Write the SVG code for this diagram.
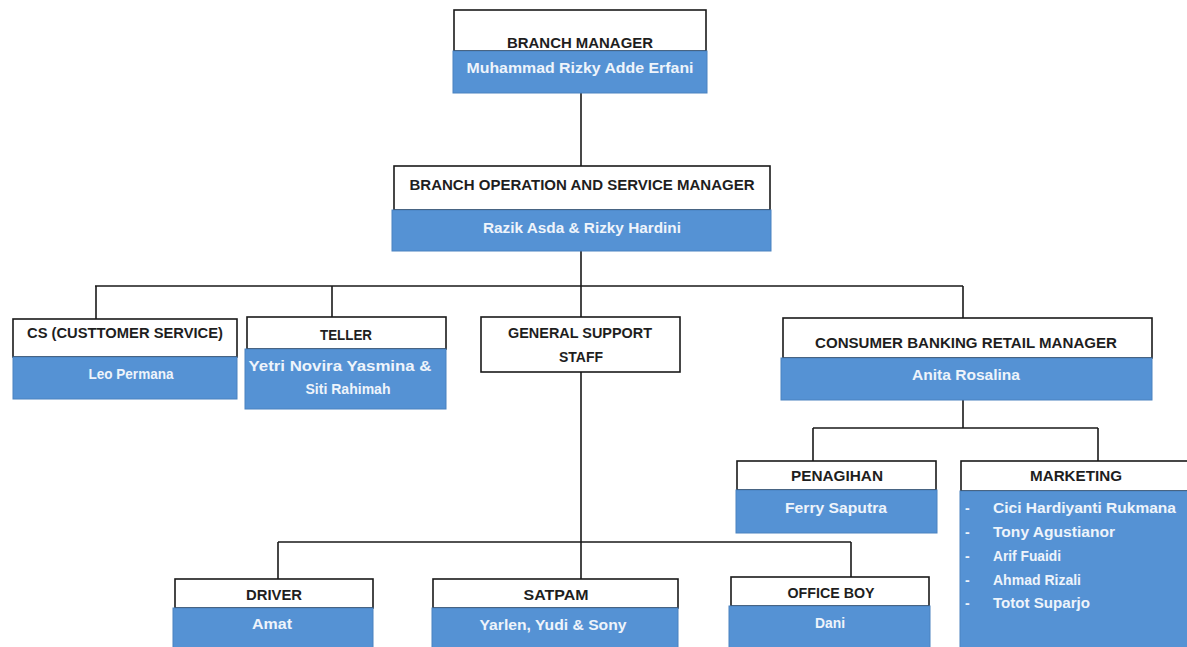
<svg xmlns="http://www.w3.org/2000/svg" width="1187" height="647" viewBox="0 0 1187 647">
<style>
.w{fill:#ffffff;stroke:#1a1a1a;stroke-width:1.6}
.b{fill:#5592d4;stroke:#4a82c0;stroke-width:1}
.t{font-family:"Liberation Sans",Arial,sans-serif;font-weight:bold;font-size:14px;fill:#1e1e1e;text-anchor:middle}
.n{font-family:"Liberation Sans",Arial,sans-serif;font-weight:bold;font-size:14px;fill:#eef4fb;text-anchor:middle}
.l{font-family:"Liberation Sans",Arial,sans-serif;font-weight:bold;font-size:14px;fill:#eef4fb}
.c{fill:none;stroke:#1a1a1a;stroke-width:1.6}
</style>
<rect width="1187" height="647" fill="#ffffff"/>
<g id="connectors">
<path class="c" d="M581 93V166"/>
<path class="c" d="M581 251V286M95 286H963M96 286V319M332 286V317M581 286V317M963 286V318"/>
<path class="c" d="M581 372V542M278 542H851M278 542V579M581 542V579M851 542V577"/>
<path class="c" d="M963 400V428M813 428H1098M813 428V461M1098 428V461"/>
</g>
<g id="branch-manager">
<rect class="w" x="454" y="10" width="252" height="41"/>
<rect class="b" x="453" y="51" width="254" height="42"/>
<text class="t" x="580" y="48" textLength="146" lengthAdjust="spacingAndGlyphs">BRANCH MANAGER</text>
<text class="n" x="580" y="73" textLength="227" lengthAdjust="spacingAndGlyphs">Muhammad Rizky Adde Erfani</text>
</g>
<g id="bosm">
<rect class="w" x="394" y="166" width="376" height="44"/>
<rect class="b" x="392" y="210" width="379" height="41"/>
<text class="t" x="582" y="190" textLength="345" lengthAdjust="spacingAndGlyphs">BRANCH OPERATION AND SERVICE MANAGER</text>
<text class="n" x="582" y="233" textLength="198" lengthAdjust="spacingAndGlyphs">Razik Asda &amp; Rizky Hardini</text>
</g>
<g id="cs">
<rect class="w" x="13" y="319" width="224" height="38"/>
<rect class="b" x="13" y="357" width="224" height="42"/>
<text class="t" x="125" y="338" textLength="196" lengthAdjust="spacingAndGlyphs">CS (CUSTTOMER SERVICE)</text>
<text class="n" x="131" y="379" textLength="85" lengthAdjust="spacingAndGlyphs">Leo Permana</text>
</g>
<g id="teller">
<rect class="w" x="247" y="317" width="199" height="32"/>
<rect class="b" x="245" y="349" width="201" height="60"/>
<text class="t" x="346" y="340" textLength="52" lengthAdjust="spacingAndGlyphs">TELLER</text>
<text class="n" x="340" y="371" textLength="183" lengthAdjust="spacingAndGlyphs">Yetri Novira Yasmina &amp;</text>
<text class="n" x="348" y="394" textLength="85" lengthAdjust="spacingAndGlyphs">Siti Rahimah</text>
</g>
<g id="general-support">
<rect class="w" x="481" y="317" width="199" height="55"/>
<text class="t" x="580" y="338" textLength="144" lengthAdjust="spacingAndGlyphs">GENERAL SUPPORT</text>
<text class="t" x="581" y="362" textLength="44" lengthAdjust="spacingAndGlyphs">STAFF</text>
</g>
<g id="cbrm">
<rect class="w" x="783" y="318" width="369" height="40"/>
<rect class="b" x="781" y="358" width="371" height="42"/>
<text class="t" x="966" y="348" textLength="302" lengthAdjust="spacingAndGlyphs">CONSUMER BANKING RETAIL MANAGER</text>
<text class="n" x="966" y="380" textLength="108" lengthAdjust="spacingAndGlyphs">Anita Rosalina</text>
</g>
<g id="penagihan">
<rect class="w" x="737" y="461" width="199" height="29"/>
<rect class="b" x="736" y="490" width="201" height="43"/>
<text class="t" x="837" y="481" textLength="92" lengthAdjust="spacingAndGlyphs">PENAGIHAN</text>
<text class="n" x="836" y="513" textLength="102" lengthAdjust="spacingAndGlyphs">Ferry Saputra</text>
</g>
<g id="marketing">
<rect class="w" x="961" y="461" width="230" height="30"/>
<rect class="b" x="960" y="491" width="231" height="160"/>
<text class="t" x="1076" y="481" textLength="92" lengthAdjust="spacingAndGlyphs">MARKETING</text>
<text class="l" x="965" y="513">-</text>
<text class="l" x="965" y="537">-</text>
<text class="l" x="965" y="561">-</text>
<text class="l" x="965" y="585">-</text>
<text class="l" x="965" y="608">-</text>
<text class="l" x="993" y="513" textLength="183" lengthAdjust="spacingAndGlyphs">Cici Hardiyanti Rukmana</text>
<text class="l" x="993" y="537" textLength="122" lengthAdjust="spacingAndGlyphs">Tony Agustianor</text>
<text class="l" x="993" y="561" textLength="68" lengthAdjust="spacingAndGlyphs">Arif Fuaidi</text>
<text class="l" x="993" y="585" textLength="88" lengthAdjust="spacingAndGlyphs">Ahmad Rizali</text>
<text class="l" x="993" y="608" textLength="97" lengthAdjust="spacingAndGlyphs">Totot Suparjo</text>
</g>
<g id="driver">
<rect class="w" x="175" y="579" width="198" height="29"/>
<rect class="b" x="173" y="608" width="200" height="43"/>
<text class="t" x="274" y="600" textLength="56" lengthAdjust="spacingAndGlyphs">DRIVER</text>
<text class="n" x="272" y="629" textLength="40" lengthAdjust="spacingAndGlyphs">Amat</text>
</g>
<g id="satpam">
<rect class="w" x="433" y="579" width="245" height="29"/>
<rect class="b" x="432" y="608" width="246" height="43"/>
<text class="t" x="556" y="600" textLength="65" lengthAdjust="spacingAndGlyphs">SATPAM</text>
<text class="n" x="553" y="630" textLength="147" lengthAdjust="spacingAndGlyphs">Yarlen, Yudi &amp; Sony</text>
</g>
<g id="office-boy">
<rect class="w" x="731" y="577" width="198" height="29"/>
<rect class="b" x="729" y="606" width="201" height="45"/>
<text class="t" x="831" y="598" textLength="87" lengthAdjust="spacingAndGlyphs">OFFICE BOY</text>
<text class="n" x="830" y="628" textLength="30" lengthAdjust="spacingAndGlyphs">Dani</text>
</g>
</svg>
